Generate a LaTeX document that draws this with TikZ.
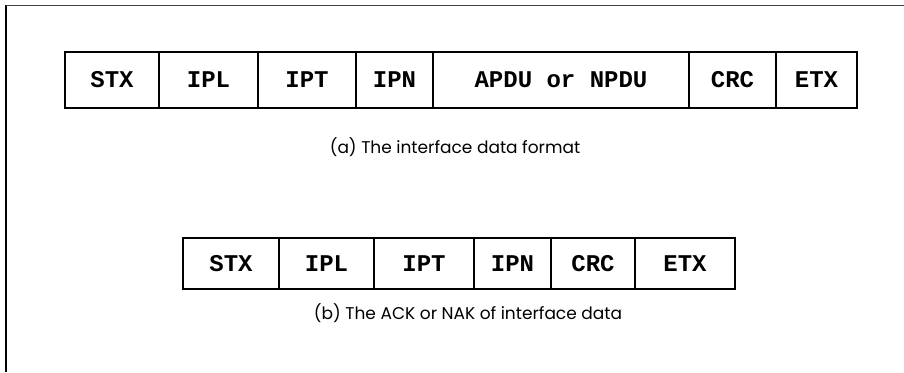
\documentclass[tikz,border=0pt]{standalone}
\usepackage{fontspec}
\setmonofont{Liberation Mono}
\newfontfamily\capfont{Poppins}
\usetikzlibrary{positioning}
\tikzset{field/.style={draw,line width=1.5pt,inner sep=0pt,outer sep=0pt,font=\fontsize{24}{24}\selectfont\ttfamily\bfseries},
rowa/.style={field,minimum height=56pt},rowb/.style={field,minimum height=51pt},
caption/.style={font=\fontsize{17}{17}\selectfont\capfont}}

\begin{document}
\begin{tikzpicture}[x=1pt,y=-1pt]
\useasboundingbox (0,0) rectangle (904,372);
\draw[line width=1.6pt] (6,372)--(6,5);\draw[line width=.9pt,black!75] (6,5)--(904,5);
% (a) interface data format
\node[rowa,minimum width=94pt,anchor=north west] (stxa) at (65,52){STX};
\node[rowa,minimum width=99pt,right=0pt of stxa] (ipla){IPL};
\node[rowa,minimum width=98pt,right=0pt of ipla] (ipta){IPT};
\node[rowa,minimum width=77pt,right=0pt of ipta] (ipna){IPN};
\node[rowa,minimum width=256pt,right=0pt of ipna] (pdua){APDU or NPDU};
\node[rowa,minimum width=87pt,right=0pt of pdua] (crca){CRC};
\node[rowa,minimum width=81pt,right=0pt of crca] (etxa){ETX};
\node[caption] (capa) at (455,147){(a) The interface data format};
% (b) ACK or NAK
\node[rowb,minimum width=96pt,anchor=north west] (stxb) at (183,238){STX};
\node[rowb,minimum width=95pt,right=0pt of stxb] (iplb){IPL};
\node[rowb,minimum width=100pt,right=0pt of iplb] (iptb){IPT};
\node[rowb,minimum width=77pt,right=0pt of iptb] (ipnb){IPN};
\node[rowb,minimum width=84pt,right=0pt of ipnb] (crcb){CRC};
\node[rowb,minimum width=100pt,right=0pt of crcb] (etxb){ETX};
\node[caption] (capb) at (468,313){(b) The ACK or NAK of interface data};
\end{tikzpicture}
\end{document}
